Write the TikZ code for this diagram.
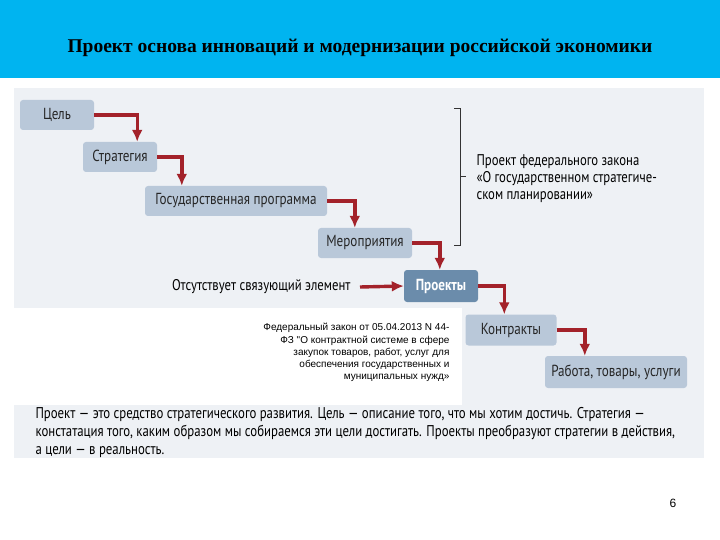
\documentclass[tikz,border=0pt]{standalone}
\usepackage{fontspec}
\setmainfont{Liberation Serif}
\newfontfamily\nar[FakeStretch=0.82]{PT Sans}
\newfontfamily\ars{Liberation Sans}
\usetikzlibrary{arrows.meta}
\definecolor{cyanbar}{HTML}{00B4F0}
\definecolor{panel}{HTML}{EEF1F5}
\definecolor{boxc}{HTML}{B9C8D9}
\definecolor{boxd}{HTML}{6B8CAB}
\definecolor{arr}{HTML}{A3222A}
\tikzset{
 sbox/.style={draw=none,fill=boxc,rounded corners=3pt,minimum height=30pt,font=\nar\fontsize{16}{17}\selectfont,text=black!85},
 conn/.style={draw=arr,line width=3.4pt,-{Latex[length=12pt,width=11pt]}},
}
\begin{document}
\begin{tikzpicture}[x=1pt,y=-1pt]
\useasboundingbox (0,0) rectangle (720,540);
\fill[white] (0,0) rectangle (720,540);
\fill[cyanbar] (0,0) rectangle (720,78);
\node[font=\bfseries\fontsize{19.5}{22}\selectfont] (title) at (360,48) {Проект основа инноваций и модернизации российской экономики};
\fill[panel] (14,88) rectangle (704,308);
\fill[panel] (462,308) rectangle (704,405);
\fill[panel] (14,405) rectangle (704,458);
\node[sbox,minimum width=74pt] (a) at (57,115) {Цель};
\node[sbox,minimum width=74pt] (b) at (120,157) {Стратегия};
\node[sbox,minimum width=182pt] (c) at (236,201) {Государственная программа};
\node[sbox,minimum width=94pt] (d) at (365,243) {Мероприятия};
\node[sbox,fill=boxd,text=white,minimum width=74pt,minimum height=32pt,font=\nar\bfseries\fontsize{16}{17}\selectfont] (e) at (441,286) {Проекты};
\node[sbox,minimum width=91pt,minimum height=31pt] (f) at (511,330) {Контракты};
\node[sbox,minimum width=142pt,minimum height=32pt] (g) at (616,372) {Работа, товары, услуги};
\draw[conn] (a.east) -| ([xshift=-20pt]b.north east);
\draw[conn] (b.east) -| ([xshift=37pt]c.north west);
\draw[conn] (c.east) -| ([xshift=37pt]d.north west);
\draw[conn] (d.east) -| ([xshift=36pt]e.north west);
\draw[conn] (e.east) -| ([xshift=39pt]f.north west);
\draw[conn] (f.east) -| ([xshift=40pt]g.north west);
\node[anchor=east,font=\nar\fontsize{15.5}{17}\selectfont] (miss) at (354,287) {Отсутствует связующий элемент};
\draw[conn] ([xshift=6pt]miss.east) -- (e.west);
\draw[black!80,line width=0.8pt] (454,108) -- (460,108) -- (460,245) -- (454,245);
\draw[black!80,line width=0.8pt] (460,176) -- (466,176);
\node[anchor=north west,align=left,font=\nar\fontsize{15.5}{17}\selectfont] (law) at (473,151) {Проект федерального закона\\«О государственном стратегиче-\\ском планировании»};
\node[anchor=north east,align=right,font=\ars\fontsize{10}{12.2}\selectfont] (fz) at (453,320) {Федеральный закон от 05.04.2013 N 44-\\ФЗ "О контрактной системе в сфере\\закупок товаров, работ, услуг для\\обеспечения государственных и\\муниципальных нужд»};
\node[anchor=north west,align=left,font=\nar\fontsize{15.6}{18}\selectfont] (txt) at (32,404) {Проект — это средство стратегического развития. Цель — описание того, что мы хотим достичь. Стратегия —\\констатация того, каким образом мы собираемся эти цели достигать. Проекты преобразуют стратегии в действия,\\а цели — в реальность.};
\node[font=\ars\fontsize{12}{14}\selectfont] (pg) at (673,503) {6};
\end{tikzpicture}
\end{document}
